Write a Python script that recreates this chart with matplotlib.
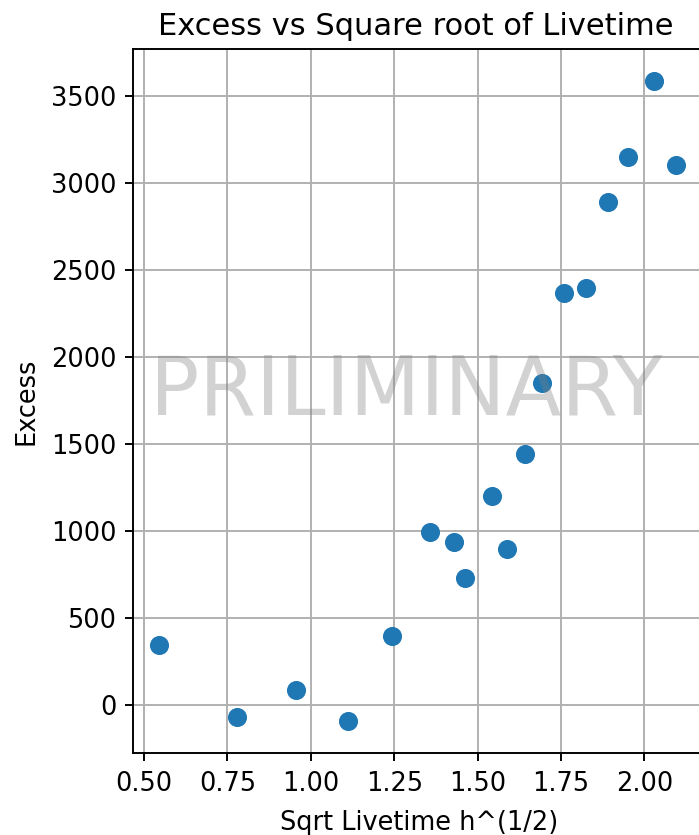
import matplotlib
matplotlib.use("Agg")
import matplotlib.pyplot as plt

# Square root of livetime (h^(1/2)) and measured excess counts
sqrt_livetime = [0.545, 0.780, 0.956, 1.110, 1.243, 1.358, 1.428, 1.462, 1.544,
                 1.588, 1.643, 1.693, 1.758, 1.824, 1.890, 1.950, 2.028, 2.094]
excess = [345, -73, 84, -96, 397, 990, 933, 726, 1199,
          895, 1443, 1852, 2366, 2398, 2893, 3147, 3586, 3103]

DPI = 173
plt.rcParams.update({
    "xtick.labelsize": 10.7,
    "ytick.labelsize": 10.7,
    "axes.labelsize": 10.7,
    "axes.titlesize": 12.7,
})

fig = plt.figure(figsize=(699.4 / DPI, 835.4 / DPI), dpi=DPI)
ax = fig.add_axes([0.1907, 0.0978, 0.818, 0.8429])

ax.scatter(sqrt_livetime, excess, s=48, color="#1f77b4", zorder=2)
ax.set_xlim(0.4679, 2.1831)
ax.grid(True, zorder=0)
ax.set_axisbelow(True)

ax.set_title("Excess vs Square root of Livetime", x=0.494)
ax.set_xlabel("Sqrt Livetime h^(1/2)", labelpad=5.5)
ax.set_ylabel("Excess", labelpad=4.8)

ax.text(0.478, 0.514, "PRILIMINARY", transform=ax.transAxes,
        fontsize=34, color="gray", alpha=0.35,
        ha="center", va="center", zorder=5)

fig.savefig("out.png", dpi=DPI)
